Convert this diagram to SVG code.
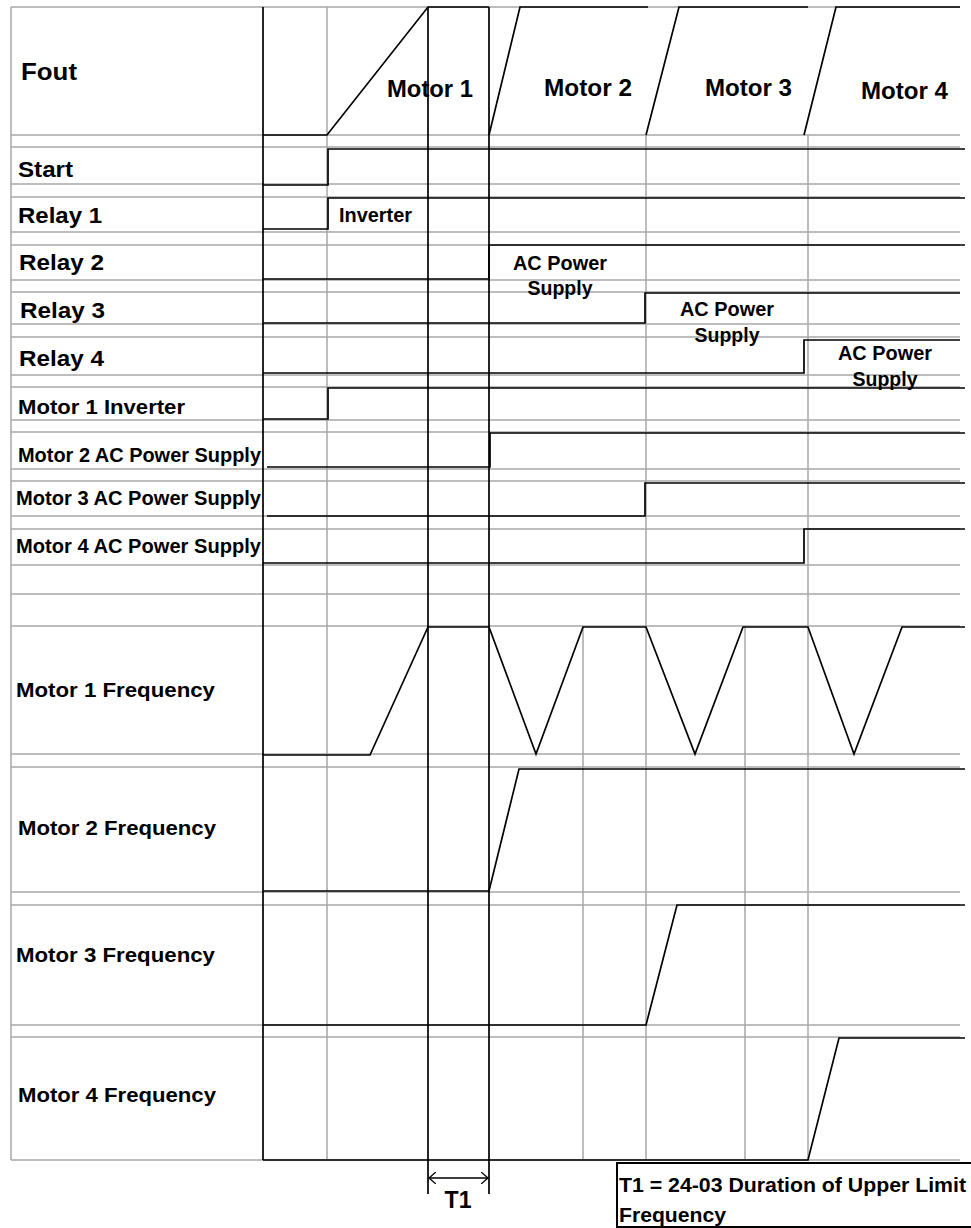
<svg xmlns="http://www.w3.org/2000/svg" width="971" height="1228" viewBox="0 0 971 1228">
<style>
.g{stroke:#a8a8a8;stroke-width:1.5;fill:none}
.k{stroke:#000;stroke-width:1.7;fill:none}
.t{font-family:"Liberation Sans",Arial,sans-serif;font-weight:bold;fill:#000}
</style>
<defs>
<marker id="ah" viewBox="0 0 8 12" refX="7" refY="6" markerWidth="8" markerHeight="12" markerUnits="userSpaceOnUse" orient="auto-start-reverse">
<path d="M0,0 L7,6 L0,12" fill="none" stroke="#000" stroke-width="1.3"/>
</marker>
</defs>
<rect x="0" y="0" width="971" height="1228" fill="#fff"/>
<g id="grid" class="g">
<path d="M11,7H960M11,135H960M11,147H960M11,184H960M11,197H960M11,232H960M11,245H960M11,280H960M11,292H960M11,324H960M11,337H960M11,375H960M11,387H960M11,420H960M11,432H960M11,469H960M11,481H960M11,516H960M11,529H960M11,565H960M11,594H960M11,626H960M11,754H960M11,767H960M11,892H960M11,905H960M11,1025H960M11,1037H960M11,1160H960"/>
<path d="M11,7V1160M327,7V1160M646,135V1160M808,135V1160M583,626V1160M745,626V1160"/>
</g>
<g id="axes" class="k">
<path d="M263,7V1160M428,7V1194M489,7V1194"/>
</g>
<g id="labels" class="t">
<text x="21" y="80" font-size="24" textLength="56" lengthAdjust="spacingAndGlyphs">Fout</text>
<text x="18" y="177" font-size="22" textLength="55" lengthAdjust="spacingAndGlyphs">Start</text>
<text x="18" y="223" font-size="22" textLength="84" lengthAdjust="spacingAndGlyphs">Relay 1</text>
<text x="19" y="270" font-size="22" textLength="85" lengthAdjust="spacingAndGlyphs">Relay 2</text>
<text x="20" y="318" font-size="22" textLength="85" lengthAdjust="spacingAndGlyphs">Relay 3</text>
<text x="19" y="366" font-size="22" textLength="85" lengthAdjust="spacingAndGlyphs">Relay 4</text>
<text x="18" y="414" font-size="20.5" textLength="167" lengthAdjust="spacingAndGlyphs">Motor 1 Inverter</text>
<text x="18" y="462" font-size="20" textLength="243" lengthAdjust="spacingAndGlyphs">Motor 2 AC Power Supply</text>
<text x="16" y="505" font-size="20" textLength="245" lengthAdjust="spacingAndGlyphs">Motor 3 AC Power Supply</text>
<text x="16" y="553" font-size="20" textLength="245" lengthAdjust="spacingAndGlyphs">Motor 4 AC Power Supply</text>
<text x="16" y="697" font-size="21" textLength="199" lengthAdjust="spacingAndGlyphs">Motor 1 Frequency</text>
<text x="18" y="835" font-size="21" textLength="198" lengthAdjust="spacingAndGlyphs">Motor 2 Frequency</text>
<text x="16" y="962" font-size="21" textLength="199" lengthAdjust="spacingAndGlyphs">Motor 3 Frequency</text>
<text x="18" y="1102" font-size="21" textLength="198" lengthAdjust="spacingAndGlyphs">Motor 4 Frequency</text>
</g>
<g id="fout" class="k">
<path d="M263,135H327L428,7H489M489,135L520,7H648M646,135L679,7H808M804,135L836,7H960"/>
</g>
<g id="motor-headers" class="t" font-size="23">
<text x="387" y="97" textLength="86" lengthAdjust="spacingAndGlyphs">Motor 1</text>
<text x="544" y="96" textLength="88" lengthAdjust="spacingAndGlyphs">Motor 2</text>
<text x="705" y="96" textLength="87" lengthAdjust="spacingAndGlyphs">Motor 3</text>
<text x="861" y="99" textLength="87" lengthAdjust="spacingAndGlyphs">Motor 4</text>
</g>
<g id="start" class="k"><path d="M263,185H328V149H965"/></g>
<g id="relay1" class="k"><path d="M263,229H328V198H965"/></g>
<g id="relay2" class="k"><path d="M263,279H489V245H965"/></g>
<g id="relay3" class="k"><path d="M263,323H645V293H960"/></g>
<g id="relay4" class="k"><path d="M263,373H804V340H960"/></g>
<g id="motor1-inverter" class="k"><path d="M263,419H328V388H965"/></g>
<g id="motor2-ac" class="k"><path d="M267,467H490V433H965"/></g>
<g id="motor3-ac" class="k"><path d="M267,516H645V483H965"/></g>
<g id="motor4-ac" class="k"><path d="M263,563H804V529H965"/></g>
<g id="motor1-freq" class="k"><path d="M263,755H370L428,627H489L536,754L583,627H646L695,754L743,627H808L854,754L902,627H965"/></g>
<g id="motor2-freq" class="k"><path d="M263,891H489L519,769H965"/></g>
<g id="motor3-freq" class="k"><path d="M263,1025H646L677,905H965"/></g>
<g id="motor4-freq" class="k"><path d="M263,1160H808L839,1038H965"/></g>
<g id="relay-labels" class="t" font-size="19.5" text-anchor="middle">
<text x="339" y="222" text-anchor="start" textLength="73" lengthAdjust="spacingAndGlyphs">Inverter</text>
<text x="560" y="270" textLength="94" lengthAdjust="spacingAndGlyphs">AC Power</text>
<text x="560" y="295" textLength="65" lengthAdjust="spacingAndGlyphs">Supply</text>
<text x="727" y="316" textLength="94" lengthAdjust="spacingAndGlyphs">AC Power</text>
<text x="727" y="342" textLength="65" lengthAdjust="spacingAndGlyphs">Supply</text>
<text x="885" y="360" textLength="94" lengthAdjust="spacingAndGlyphs">AC Power</text>
<text x="885" y="386" textLength="65" lengthAdjust="spacingAndGlyphs">Supply</text>
</g>
<g id="t1-dimension">
<path d="M429,1178H488" class="k" stroke-width="1.3" marker-start="url(#ah)" marker-end="url(#ah)"/>
<text x="458" y="1208" class="t" font-size="23" text-anchor="middle" textLength="27" lengthAdjust="spacingAndGlyphs">T1</text>
</g>
<g id="note">
<rect x="617" y="1163" width="360" height="64" fill="#fff" stroke="#000" stroke-width="2"/>
<text x="619" y="1192" class="t" font-size="21" textLength="347" lengthAdjust="spacingAndGlyphs">T1 = 24-03 Duration of Upper Limit</text>
<text x="619" y="1222" class="t" font-size="21" textLength="107" lengthAdjust="spacingAndGlyphs">Frequency</text>
</g>
</svg>
